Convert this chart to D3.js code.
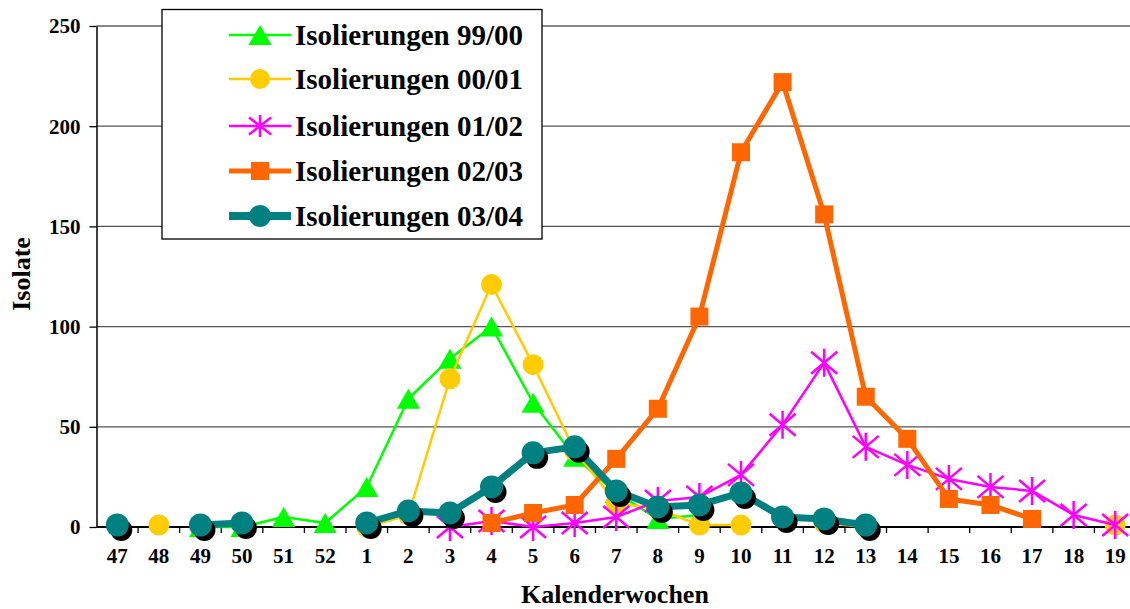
<!DOCTYPE html>
<html><head><meta charset="utf-8">
<script src="https://cdn.jsdelivr.net/npm/d3@7"></script>
<style>
body{margin:0;background:#fff}
svg{display:block}
text{font-family:"Liberation Serif","Times New Roman",serif;font-weight:bold;fill:#000}
</style>
</head><body><svg id="c" width="1130" height="609"></svg>
<script>
const categories = ["47","48","49","50","51","52","1","2","3","4","5","6","7","8","9","10","11","12","13","14","15","16","17","18","19"];
const yTicks = [0,50,100,150,200,250];
const seriesNames = ["Isolierungen 99/00","Isolierungen 00/01","Isolierungen 01/02","Isolierungen 02/03","Isolierungen 03/04"];
const iso9900 = [null,null,0,0,5,2,20,64,84,100,62,35,17,4,6,null,null,null,null,null,null,null,null,null,null];
const iso0001 = [null,1,null,null,null,null,0,6,74,121,81,38,12,9,1,1,null,2,0,null,null,null,null,null,1];
const iso0102 = [null,null,null,null,null,null,null,null,0,3,0,2,5,13,15,26,51,82,40,31,24,20,18,6,1];
const iso0203 = [null,null,null,null,null,null,null,null,null,2,7,11,34,59,105,187,222,156,65,44,14,11,4,null,null];
const iso0304 = [1,null,1,2,null,null,2,8,7,20,37,40,18,10,11,17,5,4,1,null,null,null,null,null,null];

const W = 1130, H = 609;
const svg = d3.select("#c");
const x0 = 96.5, x1 = 1136, yTop = 26, yBot = 527;
const x = d3.scaleBand().domain(categories).range([x0, x1]).padding(0);
const y = d3.scaleLinear().domain([0, 250]).range([yBot, yTop]);
const cx = c => x(c) + x.bandwidth() / 2;

// gridlines
svg.append("g").selectAll("line").data(yTicks.filter(v => v > 0)).join("line")
  .attr("x1", x0).attr("x2", W).attr("y1", d => y(d)).attr("y2", d => y(d))
  .attr("stroke", d => d === 250 ? "#888" : "#555").attr("stroke-width", d => d === 250 ? 2 : 1.3);

// y axis
const ya = svg.append("g").attr("transform", `translate(${x0},0)`)
  .call(d3.axisLeft(y).tickValues(yTicks).tickSize(7).tickSizeOuter(0).tickPadding(9));
ya.select(".domain").attr("stroke", "#000").attr("stroke-width", 1.5);
ya.selectAll(".tick line").attr("stroke", "#000").attr("stroke-width", 1.3);
ya.selectAll("text").style("font-size", "21px").attr("dy", "0.33em");

// x axis
const xa = svg.append("g").attr("transform", `translate(0,${yBot})`)
  .call(d3.axisBottom(x).tickSize(0).tickSizeOuter(0).tickPadding(23));
xa.select(".domain").remove();
xa.selectAll("text").style("font-size", "21px").attr("dy", "0.6em");
svg.append("line").attr("x1", x0).attr("x2", W).attr("y1", yBot).attr("y2", yBot)
  .attr("stroke", "#000").attr("stroke-width", 2);
const bounds = d3.range(categories.length + 1).map(i => x0 + i * x.step());
svg.append("g").selectAll("line").data(bounds.slice(1)).join("line")
  .attr("x1", d => d).attr("x2", d => d).attr("y1", yBot).attr("y2", yBot + 6)
  .attr("stroke", "#000").attr("stroke-width", 1.3);

// axis titles
svg.append("text").attr("x", 615).attr("y", 603).attr("text-anchor", "middle")
  .style("font-size", "26px").text("Kalenderwochen");
svg.append("text").attr("transform", "translate(30,274) rotate(-90)").attr("text-anchor", "middle")
  .style("font-size", "26px").text("Isolate");

// marker drawing helpers
function drawMarker(g, type, px, py, color, legend) {
  if (type === "tri") {
    g.append("path").attr("d", `M${px},${py - 10}L${px + 11.5},${py + 10}L${px - 11.5},${py + 10}Z`).attr("fill", color);
  } else if (type === "circle") {
    g.append("circle").attr("cx", px).attr("cy", py).attr("r", legend ? 10 : 10.5).attr("fill", color);
  } else if (type === "star") {
    const h = legend ? 11 : 14, w = legend ? 11 : 13, dy = legend ? 8.5 : 11;
    g.append("path").attr("d", `M${px},${py - h}V${py + h}M${px - w},${py - dy}L${px + w},${py + dy}M${px - w},${py + dy}L${px + w},${py - dy}`)
      .attr("stroke", color).attr("stroke-width", 2.5).attr("fill", "none");
  } else if (type === "square") {
    g.append("rect").attr("x", px - 9).attr("y", py - 9).attr("width", 18).attr("height", 18).attr("fill", color);
  } else if (type === "tcircle") {
    if (!legend) g.append("circle").attr("cx", px + 4).attr("cy", py + 5).attr("r", 11).attr("fill", "#000");
    g.append("circle").attr("cx", px).attr("cy", py).attr("r", legend ? 11 : 11.5).attr("fill", color);
  }
}

const series = [
  {name: seriesNames[0], values: iso9900, color: "#00FF00", width: 2.5, lw: 2.7, marker: "tri"},
  {name: seriesNames[1], values: iso0001, color: "#FFCC00", width: 2.5, lw: 2.5, marker: "circle"},
  {name: seriesNames[2], values: iso0102, color: "#FF00FF", width: 2.5, lw: 2.5, marker: "star"},
  {name: seriesNames[3], values: iso0203, color: "#FF6600", width: 5, lw: 5, marker: "square"},
  {name: seriesNames[4], values: iso0304, color: "#008080", width: 7, lw: 8, marker: "tcircle"}
];

const line = d3.line().defined(d => d.v != null).x(d => cx(d.c)).y(d => y(d.v));
series.forEach(s => {
  const g = svg.append("g");
  const pts = categories.map((c, i) => ({c, v: s.values[i]}));
  g.append("path").attr("d", line(pts)).attr("fill", "none").attr("stroke", s.color)
    .attr("stroke-width", s.width).attr("stroke-linejoin", "round");
  pts.filter(p => p.v != null).forEach(p => drawMarker(g, s.marker, cx(p.c), y(p.v), s.color, false));
});

// legend
const lg = svg.append("g");
lg.append("rect").attr("x", 162).attr("y", 9.5).attr("width", 380).attr("height", 229.5)
  .attr("fill", "#fff").attr("stroke", "#000").attr("stroke-width", 1.3);
const rowY = [35, 79, 126, 171, 216];
series.forEach((s, i) => {
  const ry = rowY[i];
  lg.append("line").attr("x1", 229).attr("x2", 291).attr("y1", ry).attr("y2", ry)
    .attr("stroke", s.color).attr("stroke-width", s.lw);
  drawMarker(lg, s.marker, 260, ry, s.color, true);
  lg.append("text").attr("x", 295).attr("y", ry + 10).style("font-size", "29px").text(s.name);
});
</script>
</body></html>
